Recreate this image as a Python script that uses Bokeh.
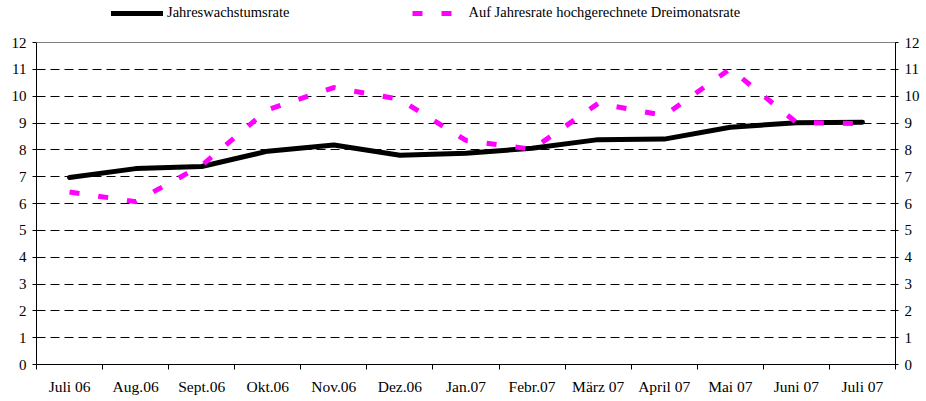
from bokeh.plotting import figure
from bokeh.models import (Range1d, LinearAxis, FixedTicker, Legend, LegendItem, Span)
from bokeh.embed import file_html
from bokeh.resources import INLINE

months = ["Juli 06", "Aug.06", "Sept.06", "Okt.06", "Nov.06", "Dez.06", "Jan.07",
          "Febr.07", "März 07", "April 07", "Mai 07", "Juni 07", "Juli 07"]
jahreswachstumsrate = [6.97, 7.30, 7.38, 7.95, 8.18, 7.80, 7.87, 8.06, 8.38, 8.40, 8.84, 9.01, 9.03]
dreimonatsrate = [6.43, 6.07, 7.42, 9.50, 10.32, 9.88, 8.35, 8.02, 9.73, 9.28, 11.02, 9.02, 8.98]
y_ticks = list(range(0, 13))

FONT = "Liberation Serif"

n = len(months)
xs = [i + 0.5 for i in range(n)]
y_max = y_ticks[-1]

# plotting area: 322 px for 0..12, extra 42 px above for the legend
PLOT_H, TOP_H = 322, 42
FRAME_H = PLOT_H + TOP_H

p = figure(frame_width=859, frame_height=FRAME_H, output_backend="svg", toolbar_location=None,
           x_range=Range1d(0, n), y_range=Range1d(0, y_max * FRAME_H / PLOT_H),
           min_border_left=36, min_border_right=26, min_border_top=0, min_border_bottom=35,
           y_axis_location="left")
p.outline_line_color = None
p.background_fill_color = "white"
p.border_fill_color = "white"

# x axis
xa = p.xaxis[0]
xa.ticker = FixedTicker(ticks=xs, minor_ticks=list(range(n + 1)))
xa.major_label_overrides = {x: m for x, m in zip(xs, months)}
xa.major_tick_in = 0
xa.major_tick_out = 0
xa.major_tick_line_color = None
xa.minor_tick_in = 0
xa.minor_tick_out = 5
xa.minor_tick_line_color = "black"
xa.axis_line_color = "black"
xa.major_label_standoff = 8
xa.major_label_text_font = FONT
xa.major_label_text_font_size = "15.5px"
xa.major_label_text_color = "black"

# left y axis
ya = p.yaxis[0]
ya.ticker = FixedTicker(ticks=y_ticks)
ya.bounds = (0, y_max)
ya.major_tick_in = 0
ya.major_tick_out = 4
ya.minor_tick_line_color = None
ya.axis_line_color = "black"
ya.major_tick_line_color = "black"
ya.major_label_standoff = 6
ya.major_label_text_font = FONT
ya.major_label_text_font_size = "15px"
ya.major_label_text_color = "black"

# right y axis
ra = LinearAxis(ticker=FixedTicker(ticks=y_ticks), bounds=(0, y_max))
ra.major_tick_in = 3
ra.major_tick_out = 3
ra.minor_tick_line_color = None
ra.axis_line_color = "black"
ra.major_tick_line_color = "black"
ra.major_label_standoff = 6
ra.major_label_text_font = FONT
ra.major_label_text_font_size = "15px"
ra.major_label_text_color = "black"
p.add_layout(ra, "right")

p.xgrid.visible = False
p.ygrid.ticker = FixedTicker(ticks=y_ticks[1:-1])
p.ygrid.grid_line_color = "black"
p.ygrid.grid_line_width = 1
p.ygrid.grid_line_dash = "9 5"

# top border of the plot area
p.add_layout(Span(location=y_max, dimension="width", line_color="#808080", line_width=1))

r1 = p.line(xs, jahreswachstumsrate, line_color="black", line_width=5,
            line_cap="round", line_join="round")
r2 = p.line(xs, dreimonatsrate, line_color="#FF00FF", line_width=5,
            line_dash="10 19", line_cap="butt", line_join="miter")

legend = Legend(items=[LegendItem(label="Jahreswachstumsrate", renderers=[r1]),
                       LegendItem(label="Auf Jahresrate hochgerechnete Dreimonatsrate", renderers=[r2])],
                orientation="horizontal", location=(75, 343), padding=0, margin=0,
                spacing=123, glyph_width=52, glyph_height=12, label_height=12,
                label_standoff=4, label_text_font=FONT, label_text_font_size="14.5px",
                label_text_color="black", border_line_color=None, background_fill_alpha=0)
p.add_layout(legend)

open("out.html", "w").write(file_html(p, INLINE))
